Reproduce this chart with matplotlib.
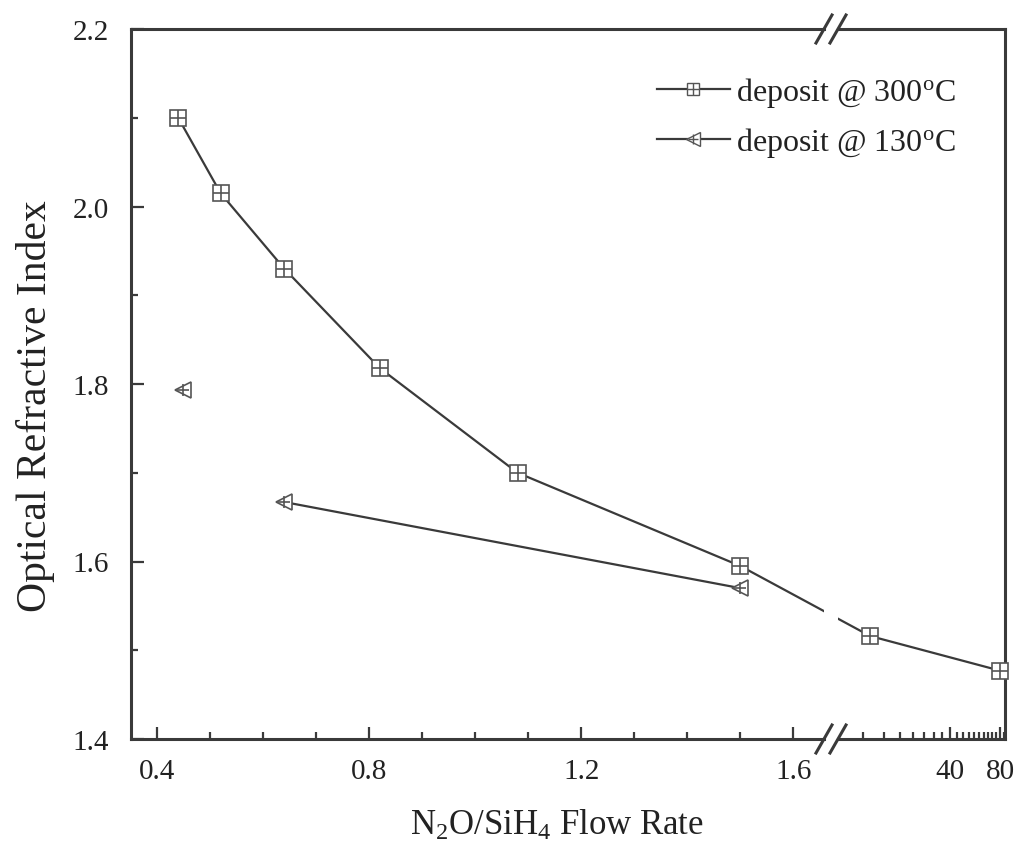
import numpy as np
import matplotlib
matplotlib.use('Agg')
import matplotlib.pyplot as plt
from matplotlib.ticker import FixedLocator, NullFormatter, MultipleLocator
from matplotlib.lines import Line2D

plt.rcParams['font.family'] = ['Liberation Serif', 'DejaVu Serif']
plt.rcParams['mathtext.fontset'] = 'custom'
plt.rcParams['mathtext.rm'] = 'Liberation Serif'
plt.rcParams['mathtext.it'] = 'Liberation Serif:italic'

# N2O/SiH4 flow rate vs refractive index
x300 = [0.44, 0.52, 0.64, 0.82, 1.08, 1.50, 13.2, 80.0]
y300 = [2.100, 2.015, 1.930, 1.818, 1.700, 1.595, 1.516, 1.477]
x130 = [0.45, 0.64, 1.50]
y130 = [1.793, 1.667, 1.570]
split = 6          # first point on the log part of the axis
xticks_lin = [0.4, 0.8, 1.2, 1.6]
xticks_log = [40, 80]
yticks = [1.4, 1.6, 1.8, 2.0, 2.2]

W, H = 1022, 862
fig = plt.figure(figsize=(W / 100, H / 100), dpi=100)

def box(x0, x1, y0=30, y1=740):
    return [x0 / W, 1 - y1 / H, (x1 - x0) / W, (y1 - y0) / H]

ax1 = fig.add_axes(box(131, 824))
ax2 = fig.add_axes(box(838, 1005), sharey=ax1)

ax1.set_xlim(0.351, 1.658)
ax2.set_xscale('log')
ax2.set_xlim(8.45, 85.7)
ax1.set_ylim(1.4, 2.2)

col = '#3a3a3a'
lw = 1.6
for ax in (ax1, ax2):
    for s in ax.spines.values():
        s.set_linewidth(2.2)
        s.set_color(col)
    ax.tick_params(which='both', direction='in', color=col, width=1.6,
                   labelsize=21, labelcolor='#222222', top=False, right=False)
    ax.tick_params(which='major', length=9)
    ax.tick_params(which='minor', length=5)
    ax.tick_params(axis='x', pad=14)
ax1.tick_params(axis='y', pad=16)
ax1.spines['right'].set_visible(False)
ax2.spines['left'].set_visible(False)
ax2.tick_params(axis='y', which='both', left=False, labelleft=False)

ax1.xaxis.set_major_locator(FixedLocator(xticks_lin))
ax1.xaxis.set_minor_locator(MultipleLocator(0.1))
ax1.yaxis.set_major_locator(FixedLocator(yticks))
ax1.yaxis.set_minor_locator(MultipleLocator(0.1))
ax1.set_xticklabels([f'{v:.1f}' for v in xticks_lin])
ax1.set_yticklabels([f'{v:.1f}' for v in yticks])

ax2.xaxis.set_major_locator(FixedLocator(xticks_log))
ax2.xaxis.set_minor_locator(FixedLocator(list(range(12, 86, 4))))
ax2.xaxis.set_minor_formatter(NullFormatter())
ax2.set_xticklabels([str(v) for v in xticks_log])

fig.canvas.draw()

def to_ax(src, dst, x, y):
    # move a data point from one axes into the data coords of the other
    p = src.transData.transform((x, y))
    return dst.transData.inverted().transform(p)

# line through the break, clipped by each axes
bx, by = to_ax(ax2, ax1, x300[split], y300[split])
ax1.plot(x300[:split] + [bx], y300[:split] + [by], '-', color=col, lw=lw)
cx, cy = to_ax(ax1, ax2, x300[split - 1], y300[split - 1])
ax2.plot([cx] + x300[split:], [cy] + y300[split:], '-', color=col, lw=lw)
ax1.plot(x130[1:], y130[1:], '-', color=col, lw=lw)

mk = dict(color='#555555', ls='none', clip_on=False, zorder=5)
for ax, xs, ys in ((ax1, x300[:split], y300[:split]),
                   (ax2, x300[split:], y300[split:])):
    ax.plot(xs, ys, marker='s', ms=11, mfc='white', mew=1.2, **mk)
    ax.plot(xs, ys, marker='+', ms=11, mew=1.2, **mk)
ax1.plot(x130, y130, marker='<', ms=12, mfc='white', mew=1.2, **mk)
ax1.plot(x130, y130, marker='+', ms=8, mew=1.2, **mk)

# break marks on the x axis
for yb in (740, 30):
    for xc in (824, 838):
        fig.add_artist(Line2D([(xc - 8) / W, (xc + 8) / W],
                              [1 - (yb + 14) / H, 1 - (yb - 14) / H],
                              color=col, lw=2.2))

ax1.set_ylabel('Optical Refractive Index', fontsize=30, color='#222222')
ax1.yaxis.set_label_coords(-76 / 693, (740 - 406) / 710)
fig.text(557 / W, 1 - 826 / H, 'N$_2$O/SiH$_4$ Flow Rate', fontsize=25,
         ha='center', va='center', color='#222222')

# legend
h300 = (Line2D([], [], color=col, lw=lw, marker='s', ms=9, mfc='white', mec='#555555'),
        Line2D([], [], ls='none', marker='+', ms=9, color='#555555'))
h130 = (Line2D([], [], color=col, lw=lw, marker='<', ms=10, mfc='white', mec='#555555'),
        Line2D([], [], ls='none', marker='+', ms=7, color='#555555'))
leg = fig.legend([h300, h130], ['deposit @ 300$^{\\rm o}$C', 'deposit @ 130$^{\\rm o}$C'],
                 loc='upper right', bbox_to_anchor=(956 / W, 1 - 76 / H),
                 frameon=False, fontsize=23, handlelength=2.3, labelspacing=0.5,
                 handletextpad=0.2, borderaxespad=0, borderpad=0)
for t in leg.get_texts():
    t.set_color('#222222')

fig.savefig('out.png', dpi=100)
